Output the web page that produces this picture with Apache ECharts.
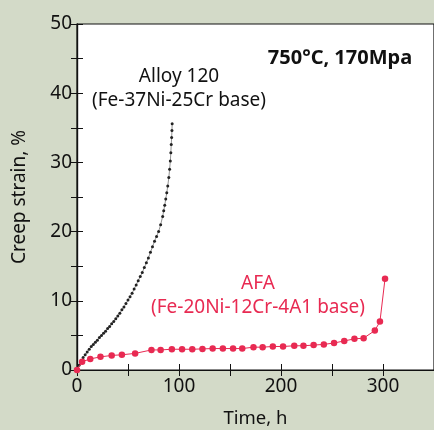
<!DOCTYPE html>
<html>
<head>
<meta charset="utf-8">
<script src="https://cdn.jsdelivr.net/npm/echarts@6/dist/echarts.min.js"></script>
<style>
html,body{margin:0;padding:0;background:#d3dac8;}
#main{width:434px;height:430px;}
</style>
</head>
<body>
<div id="main"></div>
<script>
// Alloy 120 (Fe-37Ni-25Cr base)
var alloyTime = [0,2,4,6,8,10,12,14,16,18,20,22,24,26,28,30,32,34,36,38,40,42,44,46,48,50,52,54,56,58,60,62,64,66,68,70,72,74,76,78,80,82,84,85,86,87,88,89,90,90.8,91.5,92,92.4,92.8,93.1,93.3];
var alloyStrain = [0,0.7,1.3,1.8,2.2,2.6,3.0,3.4,3.7,4.0,4.3,4.7,5.0,5.3,5.6,6.0,6.3,6.7,7.0,7.4,7.8,8.2,8.7,9.1,9.6,10.1,10.6,11.1,11.7,12.3,12.9,13.5,14.1,14.8,15.5,16.2,17.0,17.8,18.6,19.3,20.0,21.0,22.2,23.0,23.8,24.7,25.6,26.6,27.8,29.0,30.2,31.4,32.6,33.6,34.6,35.6];

// AFA (Fe-20Ni-12Cr-4A1 base)
var afaTime = [0,5,13,23,34,44,57,73,82,93,103,113,123,133,143,153,162,173,182,192,202,213,222,232,242,252,262,272,281,292,297,302];
var afaStrain = [0,1.2,1.6,1.9,2.1,2.2,2.4,2.9,2.9,3.0,3.0,3.0,3.05,3.1,3.1,3.1,3.1,3.3,3.3,3.4,3.4,3.5,3.5,3.6,3.7,3.9,4.2,4.5,4.6,5.7,7.0,13.2];

var xTicks = [0,100,200,300];
var yTicks = [0,10,20,30,40,50];

function pairs(xs, ys) {
    return xs.map(function (x, i) { return [x, ys[i]]; });
}

var chart = echarts.init(document.getElementById('main'));
var font = 'Noto Sans';
var red = '#e82a52';

var option = {
    backgroundColor: '#d3dac8',
    animation: false,
    grid: {
        left: 77, top: 24, width: 357, height: 346,
        outerBoundsMode: 'none', containLabel: false,
        show: true, backgroundColor: '#ffffff', borderColor: '#111', borderWidth: 1.2
    },
    xAxis: [{
        type: 'value', min: 0, max: 350, interval: 50,
        axisLine: {show: true, lineStyle: {color: '#111', width: 1.2}},
        axisTick: {inside: true, length: 6, lineStyle: {color: '#111'}},
        splitLine: {show: false},
        axisLabel: {
            color: '#111', fontFamily: font, fontSize: 19, margin: 7,
            formatter: function (v) { return xTicks.indexOf(v) >= 0 ? String(v) : ''; }
        },
        name: 'Time, h', nameLocation: 'middle', nameGap: 39,
        nameTextStyle: {color: '#111', fontFamily: font, fontSize: 18.5}
    }, {
        type: 'value', position: 'top', min: 0, max: 350, interval: 50,
        axisLine: {show: true, lineStyle: {color: '#111', width: 1.2}},
        axisTick: {inside: true, length: 6, lineStyle: {color: '#111'}},
        axisLabel: {show: false}, splitLine: {show: false}
    }],
    yAxis: [{
        type: 'value', min: 0, max: 50, interval: 5,
        axisLine: {show: true, lineStyle: {color: '#111', width: 1.2}},
        axisTick: {inside: true, length: 6, lineStyle: {color: '#111'}},
        splitLine: {show: false},
        axisLabel: {
            color: '#111', fontFamily: font, fontSize: 19, margin: 5,
            formatter: function (v) { return yTicks.indexOf(v) >= 0 ? String(v) : ''; }
        },
        name: 'Creep strain, %', nameLocation: 'middle', nameGap: 48,
        nameTextStyle: {color: '#111', fontFamily: font, fontSize: 19}
    }, {
        type: 'value', position: 'right', min: 0, max: 50, interval: 5,
        axisLine: {show: true, lineStyle: {color: '#111', width: 1.2}},
        axisTick: {inside: true, length: 6, lineStyle: {color: '#111'}},
        axisLabel: {show: false}, splitLine: {show: false}
    }],
    series: [{
        name: 'Alloy 120',
        type: 'line',
        data: pairs(alloyTime, alloyStrain),
        symbol: 'circle', symbolSize: 3,
        itemStyle: {color: '#222'},
        lineStyle: {color: '#777', width: 0.8},
        z: 2
    }, {
        name: 'AFA',
        type: 'line',
        data: pairs(afaTime, afaStrain),
        symbol: 'circle', symbolSize: 6.5,
        itemStyle: {color: red},
        lineStyle: {color: red, width: 1},
        z: 3
    }],
    graphic: [
        {type: 'text', x: 340, y: 58, style: {text: '750°C, 170Mpa', fill: '#111', font: 'bold 20px "Noto Sans"', align: 'center', verticalAlign: 'middle'}},
        {type: 'text', x: 179, y: 77, style: {text: 'Alloy 120', fill: '#111', font: '19px "Noto Sans"', align: 'center', verticalAlign: 'middle'}},
        {type: 'text', x: 179, y: 101, style: {text: '(Fe-37Ni-25Cr base)', fill: '#111', font: '19px "Noto Sans"', align: 'center', verticalAlign: 'middle'}},
        {type: 'text', x: 258, y: 284, style: {text: 'AFA', fill: red, font: '19px "Noto Sans"', align: 'center', verticalAlign: 'middle'}},
        {type: 'text', x: 258, y: 308, style: {text: '(Fe-20Ni-12Cr-4A1 base)', fill: red, font: '19px "Noto Sans"', align: 'center', verticalAlign: 'middle'}}
    ]
};
chart.setOption(option);
</script>
</body>
</html>
